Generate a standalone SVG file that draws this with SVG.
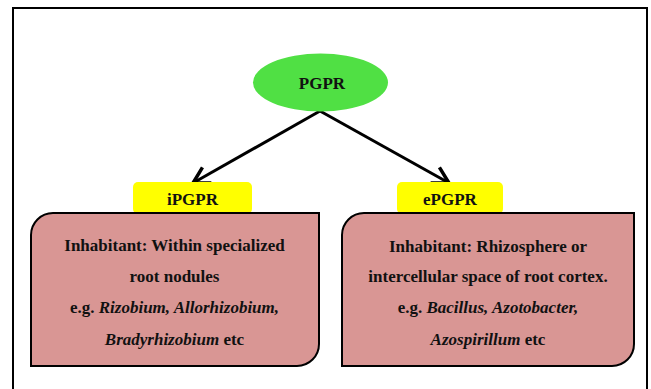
<svg xmlns="http://www.w3.org/2000/svg" width="651" height="389" viewBox="0 0 651 389">
<defs>
<marker id="chev" markerUnits="userSpaceOnUse" markerWidth="30" markerHeight="30" refX="0" refY="0" viewBox="-20 -15 30 30" orient="auto" overflow="visible">
<path d="M-16,-9 L0,0 L-16,9" fill="none" stroke="#000" stroke-width="3.5" stroke-linejoin="miter"/>
</marker>
</defs>
<style>
.t{font-family:'Liberation Serif','DejaVu Serif','Times New Roman',serif;font-weight:bold;fill:#111;text-anchor:middle;font-size:17px}
.box{fill:#d99694;stroke:#000;stroke-width:2}
.tag{fill:#ffff00}
.conn{stroke:#000;stroke-width:3;fill:none;marker-end:url(#chev)}
</style>
<rect x="13" y="8" width="634" height="400" fill="#fff" stroke="#000" stroke-width="2"/>
<g id="connectors">
<line class="conn" x1="320" y1="111" x2="193" y2="183"/>
<line class="conn" x1="320" y1="111" x2="449" y2="183"/>
</g>
<g id="pgpr">
<ellipse cx="320.5" cy="82.5" rx="67.5" ry="29" fill="#50e044"/>
<text class="t" font-family="Liberation Serif, serif" x="322" y="88.5">PGPR</text>
</g>
<g id="ipgpr">
<rect class="tag" x="133" y="182" width="119" height="32" rx="5"/>
<text class="t" font-family="Liberation Serif, serif" x="192.5" y="205">iPGPR</text>
</g>
<g id="epgpr">
<rect class="tag" x="397" y="182" width="106" height="32" rx="5"/>
<text class="t" font-family="Liberation Serif, serif" x="450" y="205">ePGPR</text>
</g>
<g id="ibox" font-family="Liberation Serif, serif">
<path class="box" d="M31,366 L31,235 A22,22 0 0 1 53,213 L319,213 L319,344 A22,22 0 0 1 297,366 Z"/>
<text class="t" x="174.5" y="251">Inhabitant: Within specialized</text>
<text class="t" x="174.5" y="282">root nodules</text>
<text class="t" x="174.5" y="313">e.g. <tspan font-style="italic">Rizobium, Allorhizobium,</tspan></text>
<text class="t" x="174.5" y="345"><tspan font-style="italic">Bradyrhizobium</tspan> etc</text>
</g>
<g id="ebox" font-family="Liberation Serif, serif">
<path class="box" d="M342,366 L342,235 A22,22 0 0 1 364,213 L634,213 L634,344 A22,22 0 0 1 612,366 Z"/>
<text class="t" x="488" y="252">Inhabitant: Rhizosphere or</text>
<text class="t" x="488" y="282">intercellular space of root cortex.</text>
<text class="t" x="488" y="313">e.g. <tspan font-style="italic">Bacillus, Azotobacter,</tspan></text>
<text class="t" x="488" y="345"><tspan font-style="italic">Azospirillum</tspan> etc</text>
</g>
</svg>
